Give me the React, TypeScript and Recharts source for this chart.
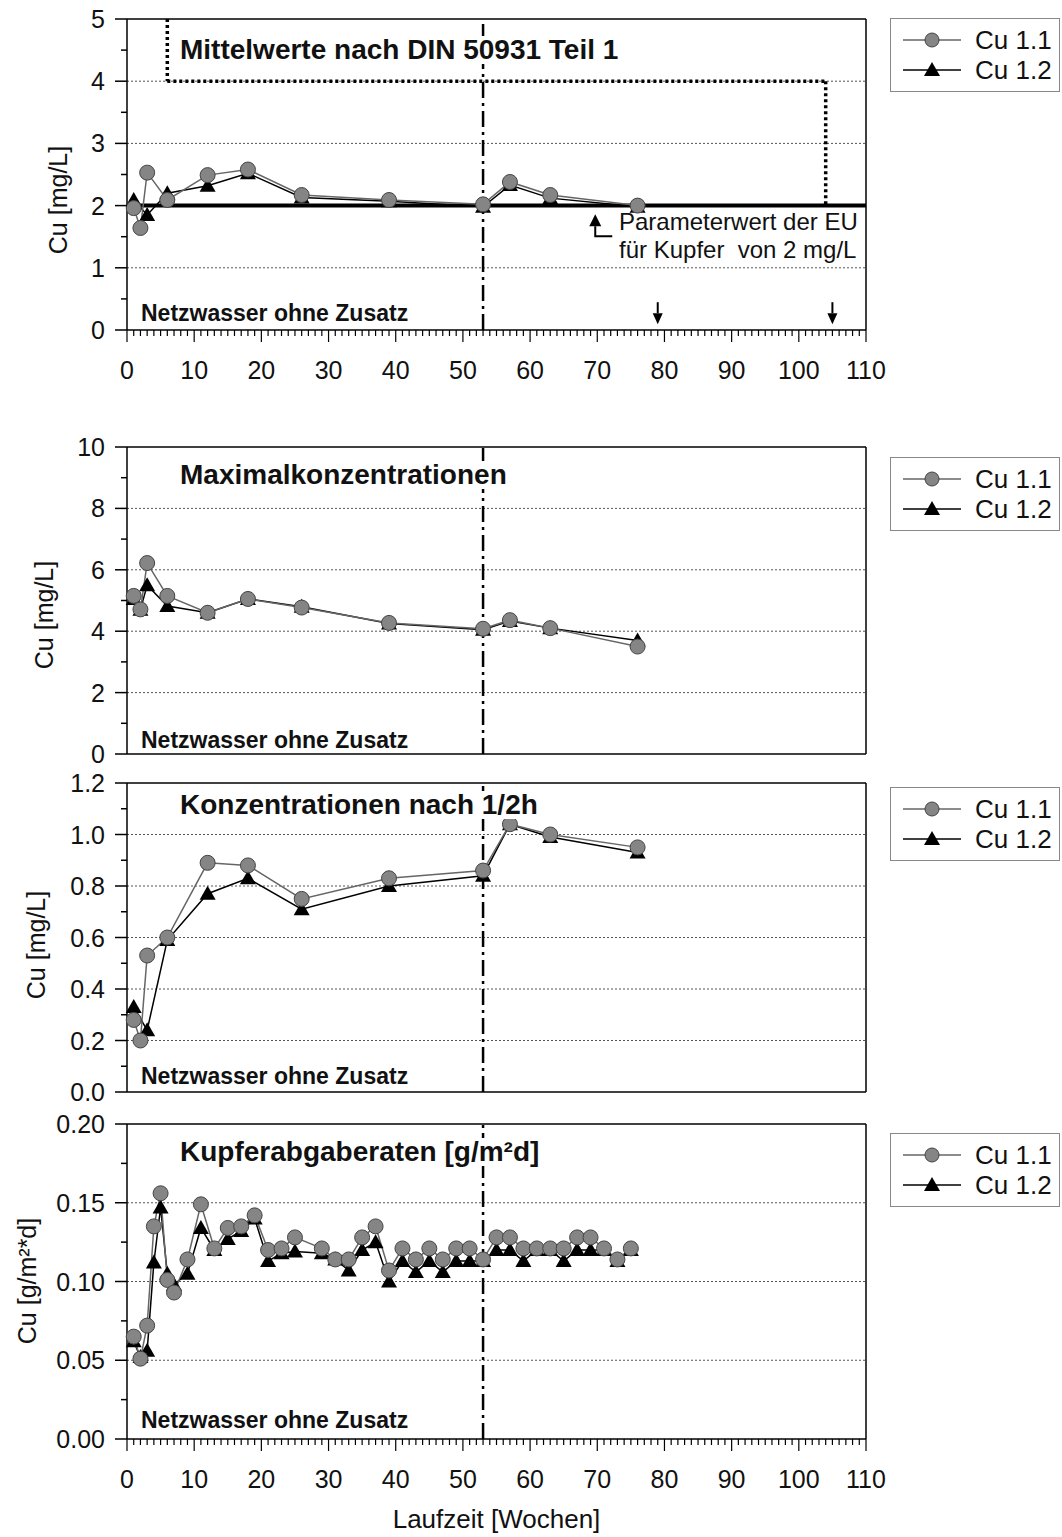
import React from 'react';
import { LineChart, Line, XAxis, YAxis, ReferenceLine, ReferenceDot, Legend } from 'recharts';

const FONT = '"Liberation Sans", Arial, Helvetica, sans-serif';
const W = 1062;

// Probenahmen (Wochen) fuer Mittelwerte, Maxima und 1/2h-Werte
const weeks = [1, 2, 3, 6, 12, 18, 26, 39, 53, 57, 63, 76];
const mean11 = [1.96, 1.64, 2.53, 2.09, 2.49, 2.58, 2.17, 2.09, 2.02, 2.38, 2.17, 2.0];
const mean12 = [2.09, null, 1.85, 2.2, 2.32, 2.52, 2.13, 2.07, 1.98, 2.33, 2.12, 1.98];
const max11 = [5.15, 4.71, 6.22, 5.15, 4.6, 5.05, 4.77, 4.27, 4.08, 4.36, 4.1, 3.5];
const max12 = [5.05, 4.7, 5.5, 4.82, 4.6, 5.05, 4.8, 4.25, 4.05, 4.33, 4.1, 3.7];
const half11 = [0.28, 0.2, 0.53, 0.6, 0.89, 0.88, 0.75, 0.83, 0.86, 1.04, 1.0, 0.95];
const half12 = [0.33, null, 0.24, 0.59, 0.77, 0.83, 0.71, 0.8, 0.84, 1.04, 0.99, 0.93];

// Abgaberaten
const rateWeeks = [1, 2, 3, 4, 5, 6, 7, 9, 11, 13, 15, 17, 19, 21, 23, 25, 29, 31, 33, 35, 37, 39,
  41, 43, 45, 47, 49, 51, 53, 55, 57, 59, 61, 63, 65, 67, 69, 71, 73, 75];
const rate11 = [0.065, 0.051, 0.072, 0.135, 0.156, 0.101, 0.093, 0.114, 0.149, 0.121, 0.134, 0.135,
  0.142, 0.12, 0.121, 0.128, 0.121, 0.114, 0.114, 0.128, 0.135, 0.107,
  0.121, 0.114, 0.121, 0.114, 0.121, 0.121, 0.114, 0.128, 0.128, 0.121, 0.121, 0.121, 0.121, 0.128,
  0.128, 0.121, 0.114, 0.121];
const rate12 = [0.062, 0.052, 0.056, 0.112, 0.147, 0.105, 0.098, 0.105, 0.134, 0.12, 0.127, 0.132,
  0.14, 0.113, 0.118, 0.119, 0.118, 0.114, 0.107, 0.12, 0.125, 0.1,
  0.113, 0.106, 0.113, 0.106, 0.113, 0.113, 0.113, 0.12, 0.12, 0.113, 0.12, 0.12, 0.113, 0.12,
  0.12, 0.12, 0.113, 0.12];

// DIN 50931 Grenzlinie und EU-Parameterwert
const dinX = [6, 6, 104, 104];
const dinY = [5, 4, 4, 2];
const euLimit = 2;
const markWeeks = [79, 105];
const startWeek = 53;

const xMajors = [0, 10, 20, 30, 40, 50, 60, 70, 80, 90, 100, 110];
const xTicks = Array.from({ length: 111 }, (_, i) => i);

const pts = (xs: number[], ys: (number | null)[]) => xs.map((x, i) => ({ x, y: ys[i] }));
const near = (a: number, list: number[]) => list.some((b) => Math.abs(a - b) < 1e-9);

const YTick = (p: any) => {
  const v = p.payload.value;
  const major = near(v, p.majors);
  return (
    <g>
      <line x1={p.x - (major ? 12 : 6)} x2={p.x} y1={p.y} y2={p.y} stroke="#000" strokeWidth={1.5} />
      {major && (
        <text x={p.x - 22} y={p.y} dy="0.36em" textAnchor="end" fontSize={25} fontFamily={FONT} fill="#111">
          {v.toFixed(p.digits)}
        </text>
      )}
    </g>
  );
};

const XTick = (p: any) => {
  const v = p.payload.value;
  const major = near(v, xMajors);
  return (
    <g>
      <line x1={p.x} x2={p.x} y1={p.y} y2={p.y + (major ? 12 : 6)} stroke="#000" strokeWidth={1.2} />
      {major && (
        <text x={p.x} y={p.y + 40} dy="0.36em" textAnchor="middle" fontSize={25} fontFamily={FONT} fill="#111">
          {v}
        </text>
      )}
    </g>
  );
};

const YTitle = ({ text, cx, cy }: any) => (
  <text x={cx} y={cy} transform={`rotate(-90 ${cx} ${cy})`} textAnchor="middle" dominantBaseline="central"
    fontSize={25} fontFamily={FONT} fill="#111">{text}</text>
);

const triDot = (p: any) => {
  if (p.cx == null || p.cy == null || p.value == null) return <g key={p.index} />;
  const { cx, cy } = p;
  return <path key={p.index} d={`M${cx},${cy - 8} L${cx + 8},${cy + 6} L${cx - 8},${cy + 6} Z`} fill="#000" />;
};

const LegendBox = () => (
  <div style={{ width: 170, height: 74, border: '1px solid #888', boxSizing: 'border-box', background: '#fff',
    fontFamily: FONT, fontSize: 26, color: '#111', paddingTop: 6 }}>
    {['Cu 1.1', 'Cu 1.2'].map((name, i) => (
      <div key={name} style={{ display: 'flex', alignItems: 'center', height: 30 }}>
        <svg width={84} height={30}>
          <line x1={12} x2={70} y1={15} y2={15} stroke={i === 0 ? '#666' : '#000'} strokeWidth={1.5} />
          {i === 0
            ? <circle cx={41} cy={15} r={7} fill="#858585" stroke="#444" />
            : <path d="M41,7 L49,21 L33,21 Z" fill="#000" />}
        </svg>
        <span>{name}</span>
      </div>
    ))}
  </div>
);

const arrowDown = (p: any) => (
  <g>
    <line x1={p.cx} x2={p.cx} y1={p.cy - 11} y2={p.cy} stroke="#000" strokeWidth={2} />
    <path d={`M${p.cx - 5},${p.cy} L${p.cx + 5},${p.cy} L${p.cx},${p.cy + 11} Z`} fill="#000" />
  </g>
);

const arrowUp = (p: any) => (
  <g>
    <path d={`M${p.cx - 6},${p.cy} L${p.cx + 6},${p.cy} L${p.cx},${p.cy - 12} Z`} fill="#000" />
    <polyline points={`${p.cx},${p.cy} ${p.cx},${p.cy + 10} ${p.cx + 17},${p.cy + 10}`} fill="none" stroke="#000" strokeWidth={2} />
  </g>
);

const Panel = (c: any) => (
  <div style={{ position: 'absolute', left: 0, top: c.top, width: W, height: c.height }}>
    <LineChart width={W} height={c.height} margin={{ top: c.mTop, right: 196, bottom: c.mBottom, left: 0 }}>
      <XAxis type="number" dataKey="x" domain={[0, 110]} ticks={xTicks} interval={0} hide={!c.showX}
        height={c.xHeight || 30} tickSize={0} tickMargin={0} tickLine={false} tick={XTick}
        axisLine={{ stroke: '#000', strokeWidth: 1.5 }}
        label={c.xLabel ? { value: c.xLabel, position: 'insideBottom', offset: 9, fontSize: 26, fontFamily: FONT, fill: '#111' } : undefined} />
      <YAxis type="number" domain={[0, c.yMax]} ticks={c.yTicks} interval={0} width={127} tickSize={0} tickMargin={0}
        tickLine={false} tick={(p: any) => <YTick {...p} majors={c.yMajors} digits={c.digits} />}
        axisLine={{ stroke: '#000', strokeWidth: 1.5 }}
        label={<YTitle text={c.yTitle} cx={c.titleX} cy={c.titleY} />} />
      {c.grid.map((g: number) => (
        <ReferenceLine key={'g' + g} y={g} stroke="#555" strokeWidth={1} strokeDasharray="2 2" />
      ))}
      <ReferenceLine y={c.yMax} stroke="#000" strokeWidth={1.5} />
      <ReferenceLine x={110} stroke="#000" strokeWidth={1.5} />
      {!c.showX && <ReferenceLine y={0} stroke="#000" strokeWidth={1.5} />}
      {c.extras}
      <ReferenceLine x={startWeek} stroke="#000" strokeWidth={2.5} strokeDasharray="16 5 3 5" />
      <Line data={c.s12} dataKey="y" type="linear" stroke="#000" strokeWidth={1.5} dot={triDot}
        connectNulls isAnimationActive={false} name="Cu 1.2" />
      <Line data={c.s11} dataKey="y" type="linear" stroke="#666" strokeWidth={1.5}
        dot={{ r: 7.5, fill: '#858585', stroke: '#444', strokeWidth: 1 }}
        isAnimationActive={false} name="Cu 1.1" />
      <Legend content={LegendBox} layout="horizontal" verticalAlign="middle" align="center"
        wrapperStyle={{ left: 890, top: c.legendTop, width: 170, height: 74 }} />
    </LineChart>
  </div>
);

const Txt = ({ x, y, size, bold, bg, children }: any) => (
  <div style={{ position: 'absolute', left: x, top: y - size / 2, fontSize: size, lineHeight: `${size}px`,
    fontWeight: bold ? 700 : 400, fontFamily: FONT, color: '#111', whiteSpace: 'pre',
    background: bg ? '#fff' : 'transparent' }}>{children}</div>
);

const dinSegments = dinX.slice(1).map((x, i) => (
  <ReferenceLine key={'din' + i} segment={[{ x: dinX[i], y: dinY[i] }, { x, y: dinY[i + 1] }]}
    stroke="#000" strokeWidth={3.5} strokeDasharray="3 3" />
));

const panel1Extras = [
  ...dinSegments,
  <ReferenceLine key="eu" y={euLimit} stroke="#000" strokeWidth={4} />,
  ...markWeeks.map((w) => <ReferenceDot key={'m' + w} x={w} y={0.27} r={0} shape={arrowDown} />),
  <ReferenceDot key="eua" x={69.7} y={1.67} r={0} shape={arrowUp} />,
];

export default function App() {
  return (
    <div style={{ position: 'absolute', left: 0, top: 0, width: W, height: 1537, background: '#fff' }}>
      <Panel top={0} height={400} mTop={19} mBottom={0} xHeight={70} showX yMax={5}
        yTicks={[0, 0.5, 1, 1.5, 2, 2.5, 3, 3.5, 4, 4.5, 5]} yMajors={[0, 1, 2, 3, 4, 5]} digits={0}
        grid={[1, 3, 4]} s11={pts(weeks, mean11)} s12={pts(weeks, mean12)}
        yTitle="Cu [mg/L]" titleX={58} titleY={200} legendTop={18} extras={panel1Extras} />
      <Panel top={400} height={370} mTop={47} mBottom={16} showX={false} yMax={10}
        yTicks={[0, 1, 2, 3, 4, 5, 6, 7, 8, 9, 10]} yMajors={[0, 2, 4, 6, 8, 10]} digits={0}
        grid={[2, 4, 6, 8]} s11={pts(weeks, max11)} s12={pts(weeks, max12)}
        yTitle="Cu [mg/L]" titleX={44} titleY={215} legendTop={57} />
      <Panel top={770} height={340} mTop={13} mBottom={18} showX={false} yMax={1.2}
        yTicks={[0, 0.1, 0.2, 0.3, 0.4, 0.5, 0.6, 0.7, 0.8, 0.9, 1.0, 1.1, 1.2]}
        yMajors={[0, 0.2, 0.4, 0.6, 0.8, 1.0, 1.2]} digits={1}
        grid={[0.2, 0.4, 0.6, 0.8, 1.0]} s11={pts(weeks, half11)} s12={pts(weeks, half12)}
        yTitle="Cu [mg/L]" titleX={36} titleY={175} legendTop={17} />
      <Panel top={1110} height={427} mTop={14} mBottom={0} xHeight={98} showX yMax={0.2}
        yTicks={[0, 0.025, 0.05, 0.075, 0.1, 0.125, 0.15, 0.175, 0.2]}
        yMajors={[0, 0.05, 0.1, 0.15, 0.2]} digits={2}
        grid={[0.05, 0.1, 0.15]} s11={pts(rateWeeks, rate11)} s12={pts(rateWeeks, rate12)}
        yTitle="Cu [g/m²*d]" titleX={27} titleY={171} legendTop={23} xLabel="Laufzeit [Wochen]" />

      <Txt x={180} y={50} size={28} bold bg>Mittelwerte nach DIN 50931 Teil 1</Txt>
      <Txt x={180} y={475} size={28} bold bg>Maximalkonzentrationen</Txt>
      <Txt x={180} y={805} size={28} bold bg>Konzentrationen nach 1/2h</Txt>
      <Txt x={180} y={1152} size={28} bold bg>Kupferabgaberaten [g/m²d]</Txt>
      {[313, 740, 1076, 1420].map((y) => (
        <Txt key={y} x={141} y={y} size={23} bold>Netzwasser ohne Zusatz</Txt>
      ))}
      <Txt x={619} y={222} size={24}>Parameterwert der EU</Txt>
      <Txt x={619} y={250} size={24}>{'für Kupfer  von 2 mg/L'}</Txt>
    </div>
  );
}
